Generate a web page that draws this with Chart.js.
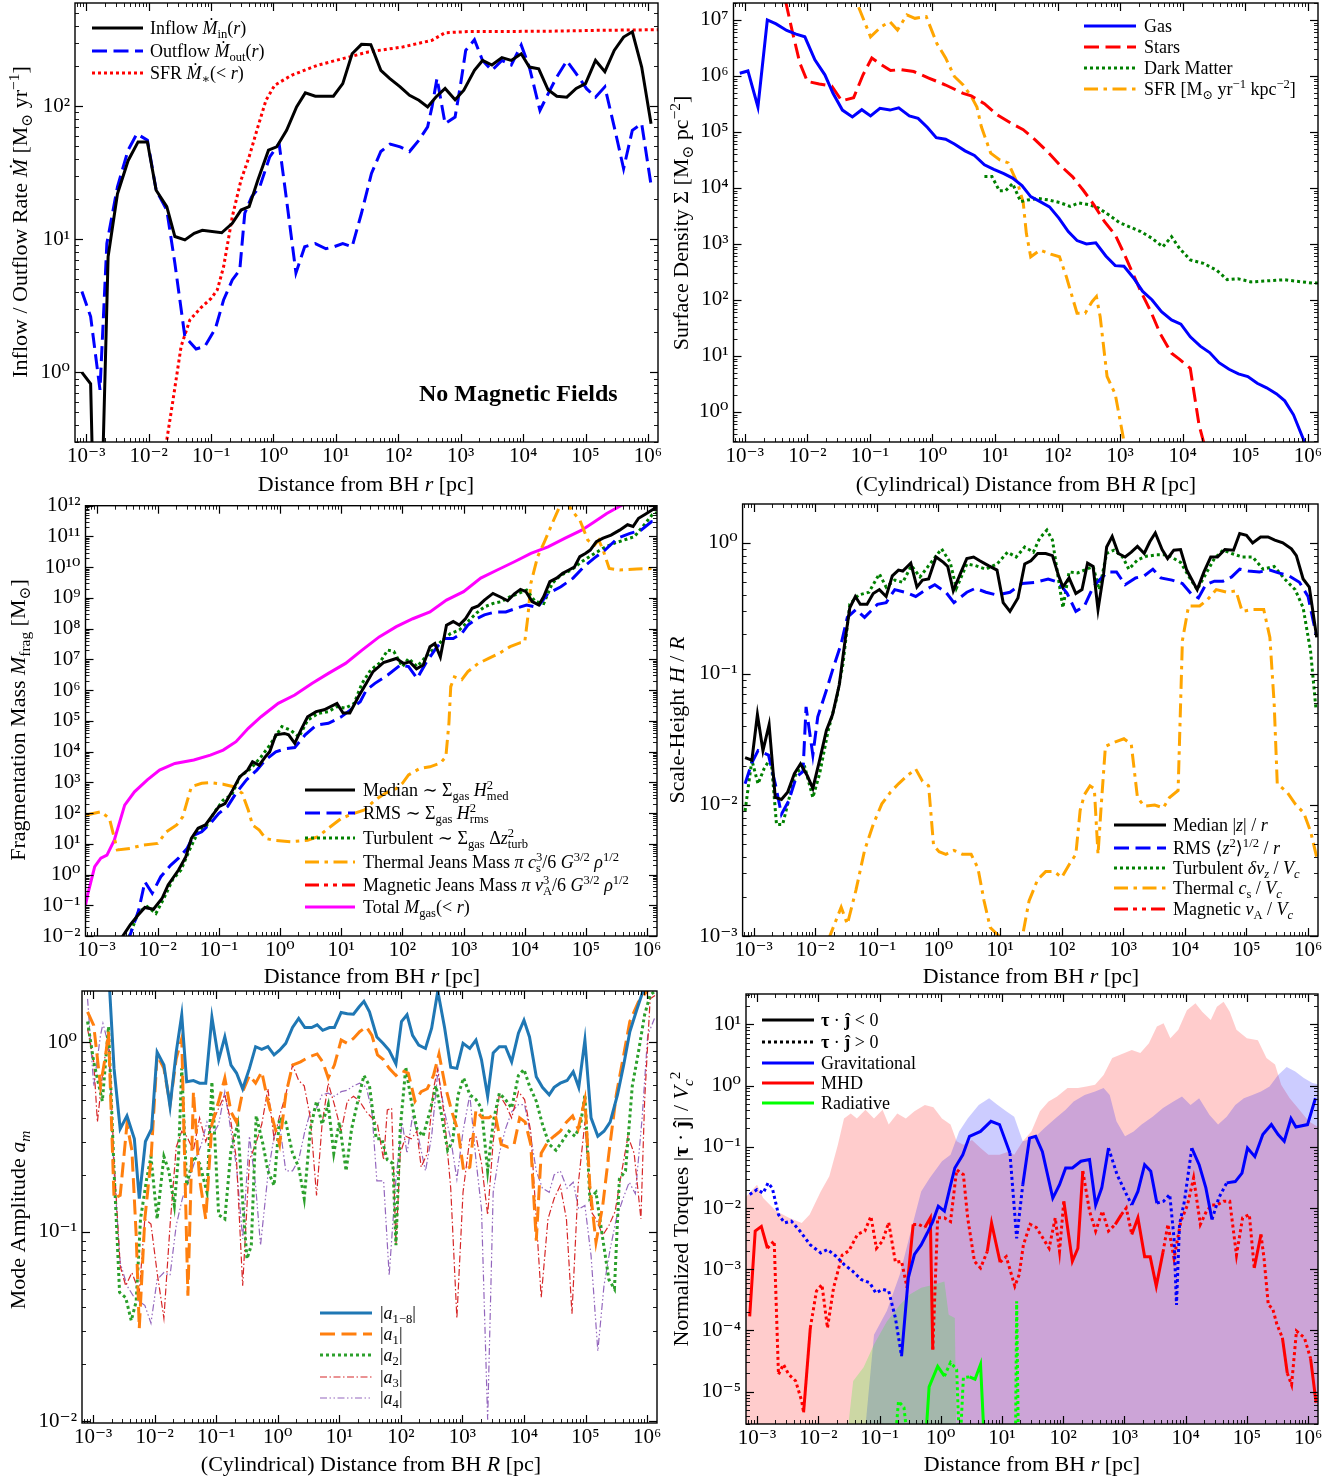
<!DOCTYPE html>
<html><head><meta charset="utf-8">
<script src="https://cdn.jsdelivr.net/npm/chart.js@4.4.1/dist/chart.umd.min.js"></script>
<style>
html,body{margin:0;padding:0;background:#fff;}
#wrap{position:relative;width:1344px;height:1479px;background:#fff;}
canvas{position:absolute;left:0;top:0;}
</style></head><body><div id="wrap">
<canvas id="c1" width="1344" height="1479"></canvas>
<canvas id="c2" width="1344" height="1479"></canvas>
<canvas id="c3" width="1344" height="1479"></canvas>
<canvas id="c4" width="1344" height="1479"></canvas>
<canvas id="c5" width="1344" height="1479"></canvas>
<canvas id="c6" width="1344" height="1479"></canvas>
</div>
<script>
// ---------------- tick values / labels ----------------
const xTickValues = [1e-3,1e-2,1e-1,1,10,100,1e3,1e4,1e5,1e6];
const xTickLabels = ['10⁻³','10⁻²','10⁻¹','10⁰','10¹','10²','10³','10⁴','10⁵','10⁶'];
const p1YTicks = [1,10,100];             const p1YLabels = ['10⁰','10¹','10²'];
const p2YTicks = [1,10,100,1e3,1e4,1e5,1e6,1e7];
const p2YLabels = ['10⁰','10¹','10²','10³','10⁴','10⁵','10⁶','10⁷'];
const p3YTicks = [1e-2,1e-1,1,10,100,1e3,1e4,1e5,1e6,1e7,1e8,1e9,1e10,1e11,1e12];
const p3YLabels = ['10⁻²','10⁻¹','10⁰','10¹','10²','10³','10⁴','10⁵','10⁶','10⁷','10⁸','10⁹','10¹⁰','10¹¹','10¹²'];
const p4YTicks = [1e-3,1e-2,1e-1,1];     const p4YLabels = ['10⁻³','10⁻²','10⁻¹','10⁰'];
const p5YTicks = [1e-2,1e-1,1];          const p5YLabels = ['10⁻²','10⁻¹','10⁰'];
const p6YTicks = [1e-5,1e-4,1e-3,1e-2,1e-1,1,10];
const p6YLabels = ['10⁻⁵','10⁻⁴','10⁻³','10⁻²','10⁻¹','10⁰','10¹'];

// ---------------- data: [log10 r (pc), value] ----------------
// Panel 1: inflow / outflow / SFR (M_sun/yr)
const p1Inflow = [[-3.07,1.0],[-2.93,0.82],[-2.87,0.05],[-2.77,0.05],[-2.65,7.4],[-2.5,22],[-2.33,39],[-2.17,54],[-2.02,54],[-1.88,23.4],[-1.71,17.6],[-1.58,10.5],[-1.42,9.9],[-1.27,11.1],[-1.14,11.7],[-0.83,11.2],[-0.66,13.2],[-0.52,16.6],[-0.39,17.6],[-0.25,27.9],[-0.08,46.8],[0.05,49.5],[0.21,66],[0.37,99],[0.51,126],[0.67,119],[0.96,119],[1.11,148],[1.26,248],[1.41,292],[1.56,290],[1.72,186],[1.86,162],[2.03,140],[2.18,121],[2.33,111],[2.47,99],[2.6,117],[2.75,136],[2.91,112],[3.05,132],[3.22,186],[3.35,221],[3.5,204],[3.66,232],[3.81,221],[3.97,248],[4.1,197],[4.25,191],[4.4,133],[4.54,119],[4.7,117],[4.85,136],[5.0,148],[5.16,221],[5.31,182],[5.46,263],[5.61,331],[5.75,363],[5.9,197],[6.05,74]];
const p1Outflow = [[-3.07,4.05],[-2.93,2.63],[-2.78,0.74],[-2.67,9.3],[-2.5,24.8],[-2.33,46.8],[-2.19,62],[-2.02,55.6],[-1.88,23.4],[-1.71,16.6],[-1.58,6.6],[-1.42,1.86],[-1.24,1.5],[-1.1,1.57],[-0.93,2.14],[-0.8,3.5],[-0.66,4.95],[-0.54,5.9],[-0.46,15.7],[-0.35,20.9],[-0.22,24.8],[-0.06,41.7],[0.09,52.5],[0.21,19.7],[0.36,5.6],[0.5,8.8],[0.67,9.3],[0.84,8.5],[0.97,8.8],[1.11,9.3],[1.26,8.8],[1.41,15.7],[1.57,31.3],[1.72,45.7],[1.87,52],[2.03,49.5],[2.18,45.7],[2.33,55.6],[2.47,70],[2.54,99],[2.62,162],[2.75,74],[2.91,83],[3.0,148],[3.08,263],[3.22,316],[3.35,221],[3.5,186],[3.66,221],[3.81,204],[3.97,288],[4.1,197],[4.27,93],[4.4,124],[4.54,166],[4.7,219],[4.85,176],[5.02,135],[5.16,117],[5.31,140],[5.46,70],[5.61,34],[5.75,66],[5.9,74],[6.05,25.6]];
const p1SFR = [[-1.78,0.1],[-1.71,0.31],[-1.61,0.62],[-1.48,1.57],[-1.34,2.48],[-1.17,3.04],[-1.0,3.6],[-0.9,4.17],[-0.8,6.2],[-0.66,14.8],[-0.52,27.9],[-0.39,41.7],[-0.25,70],[-0.12,111],[0.02,144],[0.29,171],[0.7,203],[1.11,228],[1.52,256],[2.07,279],[2.54,313],[2.75,357],[3.16,365],[3.84,365],[4.52,367],[5.2,372],[6.16,376]];

// Panel 2: surface densities
const p2Gas = [[-3.08,1.12e6],[-2.95,1.23e6],[-2.79,2.8e5],[-2.64,1e7],[-2.5,8.5e6],[-2.33,6.5e6],[-2.18,5.6e6],[-2.04,5e6],[-1.88,1.94e6],[-1.72,1.05e6],[-1.59,4.9e5],[-1.44,2.46e5],[-1.28,1.86e5],[-1.13,2.5e5],[-0.99,1.94e5],[-0.84,2.65e5],[-0.68,2.46e5],[-0.54,2.7e5],[-0.37,1.94e5],[-0.23,1.75e5],[-0.08,1.2e5],[0.06,7.9e4],[0.21,7.4e4],[0.35,6.1e4],[0.52,4.6e4],[0.67,3.8e4],[0.83,2.6e4],[0.98,2.15e4],[1.14,1.8e4],[1.28,1.5e4],[1.43,1.1e4],[1.57,7e3],[1.72,5.7e3],[1.87,4.6e3],[2.02,2.9e3],[2.17,1.67e3],[2.31,1.15e3],[2.46,1e3],[2.61,1.05e3],[2.77,610],[2.92,410],[3.06,400],[3.21,250],[3.36,142],[3.51,100],[3.66,62],[3.82,44],[3.97,37],[4.12,22],[4.28,15],[4.43,11.5],[4.58,7.6],[4.74,5.8],[4.89,4.8],[5.04,4.3],[5.19,3.25],[5.34,2.7],[5.5,2.1],[5.63,1.58],[5.77,0.89],[5.94,0.3],[6.0,0.15]];
const p2Stars = [[-2.42,5e7],[-2.24,6.2e6],[-2.12,1.7e6],[-2.0,8e5],[-1.81,7.2e5],[-1.61,6.6e5],[-1.45,3.6e5],[-1.26,4.1e5],[-1.11,1.05e6],[-0.97,2.1e6],[-0.82,1.6e6],[-0.67,1.25e6],[-0.51,1.3e6],[-0.3,1.2e6],[-0.06,9.2e5],[0.21,6.9e5],[0.49,4.9e5],[0.62,4.4e5],[0.83,3.2e5],[1.04,2e5],[1.28,1.38e5],[1.45,1.1e5],[1.65,7.1e4],[1.86,4.2e4],[2.03,2.6e4],[2.24,1.58e4],[2.41,9.1e3],[2.58,5e3],[2.75,2.5e3],[2.92,1.45e3],[3.06,680],[3.2,300],[3.33,142],[3.49,62],[3.64,25],[3.82,11.2],[3.95,8.7],[4.12,6],[4.26,0.59],[4.33,0.3],[4.38,0.1]];
const p2DarkMatter = [[0.83,1.6e4],[0.95,1.6e4],[1.07,8.9e3],[1.17,9e3],[1.28,1.2e4],[1.41,5.7e3],[1.52,6.1e3],[1.69,6.5e3],[1.86,6.1e3],[2.03,5.5e3],[2.2,4.7e3],[2.34,5.4e3],[2.51,5e3],[2.65,4.4e3],[2.82,3.3e3],[2.99,2.4e3],[3.16,2e3],[3.33,1.66e3],[3.51,1.26e3],[3.68,890],[3.82,1.35e3],[3.95,830],[4.12,520],[4.33,450],[4.54,340],[4.71,230],[4.88,240],[5.09,210],[5.36,220],[5.63,230],[5.91,210],[6.08,200],[6.16,200]];
const p2SFR = [[-1.35,5e7],[-0.99,5e6],[-0.82,7.6e6],[-0.68,9.3e6],[-0.56,6.6e6],[-0.41,1.23e7],[-0.28,1.07e7],[-0.1,1.15e7],[0.07,3.8e6],[0.21,2.1e6],[0.35,9.8e5],[0.49,6.9e5],[0.62,4.3e5],[0.71,2.8e5],[0.78,1.25e5],[0.93,4.2e4],[1.07,3.2e4],[1.21,2.8e4],[1.37,1.13e4],[1.45,5.5e3],[1.5,1.55e3],[1.57,590],[1.72,780],[1.89,660],[2.03,590],[2.14,260],[2.31,58],[2.44,58],[2.55,93],[2.62,115],[2.68,50],[2.79,4.3],[2.92,2.1],[3.06,0.3],[3.1,0.1]];

// Panel 3: fragmentation masses (M_sun)
const p3Median = [[-2.62,0.006],[-2.57,0.01],[-2.45,0.023],[-2.32,0.048],[-2.21,0.085],[-2.07,0.074],[-1.93,0.166],[-1.83,0.46],[-1.66,1.4],[-1.54,3.8],[-1.45,15],[-1.34,32],[-1.22,41],[-1.1,87],[-1.0,162],[-0.9,204],[-0.79,490],[-0.66,1.5e3],[-0.53,2.5e3],[-0.45,4.7e3],[-0.34,3.6e3],[-0.24,6.8e3],[-0.17,9.8e3],[-0.07,3.5e4],[0.07,3.9e4],[0.14,3.5e4],[0.24,1.86e4],[0.34,5e4],[0.45,1.35e5],[0.59,2e5],[0.72,2.3e5],[0.93,3.7e5],[1.03,1.8e5],[1.14,1.8e5],[1.28,6.1e5],[1.41,1.66e6],[1.52,4e6],[1.69,7.8e6],[1.9,1.07e7],[2.02,7.4e6],[2.12,8.3e6],[2.23,4.9e6],[2.34,6.6e6],[2.45,2.6e7],[2.53,3.3e7],[2.62,1.2e7],[2.72,1.3e8],[2.83,1.7e8],[2.93,1.3e8],[3.03,2.1e8],[3.14,4.6e8],[3.24,5.5e8],[3.34,8.5e8],[3.48,1.4e9],[3.61,1.05e9],[3.72,8.1e8],[3.83,1.35e9],[3.93,1.9e9],[4.02,1.6e9],[4.12,7.6e8],[4.23,5.9e8],[4.31,1.1e9],[4.41,3.4e9],[4.52,4.4e9],[4.62,6.3e9],[4.72,8.1e9],[4.81,1e10],[4.9,2.2e10],[4.99,2.8e10],[5.07,3.6e10],[5.17,6.8e10],[5.28,8.8e10],[5.41,1.1e11],[5.55,1.6e11],[5.68,2.4e11],[5.77,2.1e11],[5.86,3.9e11],[5.97,5.3e11],[6.08,7.2e11],[6.16,9e11]];
const p3RMS = [[-2.5,0.006],[-2.45,0.011],[-2.31,0.07],[-2.21,0.58],[-2.09,0.245],[-1.95,0.85],[-1.79,2.0],[-1.66,3.4],[-1.52,7.1],[-1.41,19],[-1.28,24.5],[-1.14,46],[-1.0,98],[-0.86,162],[-0.72,440],[-0.55,1.2e3],[-0.38,2.5e3],[-0.24,5.3e3],[-0.07,9.8e3],[0.1,1.26e4],[0.24,1.35e4],[0.41,3.5e4],[0.59,7.2e4],[0.79,8.3e4],[1.0,1.35e5],[1.14,2.2e5],[1.31,4.2e5],[1.41,1e6],[1.55,1.66e6],[1.76,3.1e6],[1.97,6.6e6],[2.1,5.8e6],[2.24,2.4e6],[2.38,7.4e6],[2.55,2.3e7],[2.69,4.8e7],[2.83,4.8e7],[2.97,7e7],[3.07,1.3e8],[3.21,2.1e8],[3.34,2.8e8],[3.52,3.5e8],[3.69,3.5e8],[3.86,4.6e8],[4.03,5.9e8],[4.21,4.9e8],[4.38,1.4e9],[4.59,2.3e9],[4.79,4.4e9],[4.97,1.05e10],[5.14,2e10],[5.31,3.6e10],[5.52,8.8e10],[5.72,1.26e11],[5.9,1.6e11],[6.07,3e11],[6.16,3.2e11]];
const p3Turbulent = [[-2.5,0.006],[-2.45,0.012],[-2.31,0.062],[-2.17,0.09],[-2.03,0.054],[-1.9,0.166],[-1.76,0.66],[-1.62,1.4],[-1.48,6.3],[-1.34,24.5],[-1.21,36],[-1.07,110],[-0.93,263],[-0.79,390],[-0.66,1.5e3],[-0.48,2.8e3],[-0.31,6.8e3],[-0.17,1.6e4],[0.03,6.5e4],[0.17,5e4],[0.31,3e4],[0.45,1.05e5],[0.62,1.74e5],[0.79,2e5],[0.93,2.9e5],[1.07,2.6e5],[1.21,3.7e5],[1.34,1.66e6],[1.48,4.5e6],[1.62,7.4e6],[1.76,2e7],[1.86,1.8e7],[2.0,5.8e6],[2.1,1.07e7],[2.24,5.8e6],[2.38,1.2e7],[2.52,2.3e7],[2.66,4.3e7],[2.79,7e7],[2.93,9e7],[3.07,1.7e8],[3.21,3.2e8],[3.34,5.1e8],[3.48,6.6e8],[3.62,7.6e8],[3.76,1.1e9],[3.9,1.4e9],[4.03,1.8e9],[4.17,7.6e8],[4.31,6.6e8],[4.45,3e9],[4.59,5.5e9],[4.76,8.1e9],[4.93,1.5e10],[5.1,2.5e10],[5.28,4.1e10],[5.45,5.9e10],[5.62,7.6e10],[5.79,9.8e10],[5.93,2.1e11],[6.08,5e11],[6.16,6e11]];
const p3Thermal = [[-3.17,87],[-2.93,110],[-2.79,67],[-2.66,6.3],[-2.45,7.1],[-2.24,9.1],[-2.0,10.3],[-1.86,24.5],[-1.69,41],[-1.59,76],[-1.52,234],[-1.45,720],[-1.28,930],[-1.14,980],[-0.93,870],[-0.76,720],[-0.62,440],[-0.52,126],[-0.45,41],[-0.34,28],[-0.24,15],[-0.1,13],[0.17,11.7],[0.45,13],[0.62,17],[0.79,32],[1.0,67],[1.21,98],[1.38,126],[1.55,263],[1.72,440],[1.9,630],[2.0,930],[2.1,1.74e3],[2.28,2.8e3],[2.45,3.2e3],[2.62,4.2e3],[2.71,6.8e3],[2.76,8.3e4],[2.79,1.3e6],[2.85,2.7e6],[2.97,2.2e6],[3.07,4e6],[3.24,7.4e6],[3.41,1.07e7],[3.59,1.6e7],[3.76,2.6e7],[3.93,3.5e7],[4.0,3.7e7],[4.05,2.4e8],[4.1,3e9],[4.21,2.2e10],[4.31,5.9e10],[4.45,2.7e11],[4.57,9.3e11],[4.66,2e12],[4.76,7.2e11],[4.9,3.4e11],[5.03,7.6e10],[5.14,5.2e10],[5.21,7.6e10],[5.28,3.6e10],[5.38,9.1e9],[5.55,8.1e9],[5.83,8.7e9],[6.16,9.1e9]];
const p3Magnetic = [];
const p3Total = [[-3.18,0.1],[-3.14,0.245],[-3.03,1.8],[-2.93,3.4],[-2.83,4.3],[-2.71,13],[-2.54,182],[-2.38,490],[-2.17,1.2e3],[-1.97,2.5e3],[-1.72,4.1e3],[-1.41,5.3e3],[-1.14,7.7e3],[-0.93,1.12e4],[-0.72,2.1e4],[-0.52,5.7e4],[-0.31,1.36e5],[-0.03,3.7e5],[0.24,6.9e5],[0.52,1.65e6],[0.79,3.5e6],[1.07,7.4e6],[1.34,2e7],[1.62,5.4e7],[1.9,1.16e8],[2.17,2.1e8],[2.45,3.5e8],[2.72,8.5e8],[3.0,1.6e9],[3.28,4.4e9],[3.55,8.1e9],[3.83,1.5e10],[4.1,2.8e10],[4.38,4.6e10],[4.66,8.8e10],[4.93,1.6e11],[5.14,3e11],[5.34,5.6e11],[5.59,1.05e12],[5.7,1.6e12]];

// Panel 4: scale heights H/R
const p4Median = [[-3.14,0.023],[-3.03,0.022],[-2.94,0.049],[-2.85,0.026],[-2.75,0.041],[-2.65,0.0114],[-2.55,0.011],[-2.45,0.0125],[-2.34,0.0173],[-2.24,0.0206],[-2.13,0.0167],[-2.04,0.0134],[-1.93,0.022],[-1.82,0.037],[-1.72,0.049],[-1.61,0.083],[-1.51,0.19],[-1.44,0.32],[-1.35,0.39],[-1.27,0.34],[-1.16,0.34],[-1.06,0.41],[-0.96,0.44],[-0.85,0.39],[-0.75,0.56],[-0.65,0.62],[-0.58,0.61],[-0.45,0.7],[-0.35,0.46],[-0.26,0.52],[-0.16,0.53],[-0.04,0.78],[0.08,0.71],[0.15,0.66],[0.24,0.43],[0.36,0.59],[0.46,0.76],[0.57,0.78],[0.67,0.73],[0.81,0.67],[0.95,0.62],[1.05,0.35],[1.16,0.3],[1.29,0.38],[1.4,0.69],[1.5,0.73],[1.61,0.83],[1.74,0.83],[1.85,0.8],[1.95,0.56],[2.02,0.46],[2.12,0.54],[2.23,0.41],[2.33,0.44],[2.42,0.7],[2.51,0.66],[2.59,0.31],[2.68,0.58],[2.73,0.93],[2.82,1.12],[2.92,0.83],[3.03,0.78],[3.13,0.85],[3.23,0.94],[3.34,0.83],[3.43,1.02],[3.52,1.19],[3.63,0.89],[3.72,0.76],[3.82,0.88],[3.93,0.89],[4.03,0.62],[4.2,0.44],[4.31,0.6],[4.42,0.78],[4.53,0.78],[4.65,0.89],[4.79,0.88],[4.89,1.18],[5.0,1.14],[5.1,1.0],[5.23,1.11],[5.35,1.11],[5.46,1.05],[5.59,1.0],[5.73,0.9],[5.81,0.8],[5.92,0.53],[6.02,0.46],[6.14,0.19]];
const p4RMS = [[-3.14,0.0145],[-3.03,0.021],[-2.93,0.026],[-2.76,0.024],[-2.65,0.0145],[-2.55,0.0085],[-2.43,0.0108],[-2.31,0.0163],[-2.2,0.018],[-2.15,0.056],[-2.04,0.024],[-1.96,0.047],[-1.82,0.075],[-1.72,0.107],[-1.58,0.17],[-1.48,0.27],[-1.34,0.31],[-1.2,0.27],[-0.99,0.34],[-0.85,0.35],[-0.71,0.44],[-0.54,0.42],[-0.37,0.39],[-0.2,0.44],[-0.06,0.48],[0.12,0.42],[0.25,0.35],[0.46,0.42],[0.6,0.45],[0.77,0.42],[0.95,0.4],[1.16,0.42],[1.36,0.49],[1.57,0.5],[1.78,0.53],[1.95,0.5],[2.09,0.41],[2.23,0.3],[2.37,0.33],[2.51,0.46],[2.61,0.52],[2.75,0.6],[2.89,0.6],[3.03,0.48],[3.2,0.54],[3.34,0.56],[3.48,0.63],[3.61,0.54],[3.79,0.52],[3.96,0.49],[4.1,0.41],[4.22,0.38],[4.34,0.48],[4.48,0.51],[4.62,0.51],[4.76,0.55],[4.89,0.63],[5.03,0.61],[5.21,0.6],[5.38,0.62],[5.52,0.59],[5.69,0.56],[5.86,0.5],[6.0,0.39],[6.13,0.2]];
const p4Turbulent = [[-3.14,0.009],[-3.03,0.022],[-2.93,0.0145],[-2.83,0.019],[-2.72,0.023],[-2.63,0.0071],[-2.53,0.0071],[-2.41,0.012],[-2.31,0.0178],[-2.17,0.0194],[-2.04,0.0114],[-1.93,0.0173],[-1.79,0.037],[-1.65,0.066],[-1.55,0.12],[-1.44,0.34],[-1.3,0.4],[-1.13,0.42],[-0.96,0.58],[-0.85,0.46],[-0.71,0.52],[-0.58,0.5],[-0.44,0.67],[-0.3,0.55],[-0.16,0.67],[0.05,0.9],[0.19,0.71],[0.29,0.45],[0.46,0.69],[0.6,0.67],[0.77,0.63],[0.95,0.69],[1.12,0.85],[1.26,0.78],[1.4,0.93],[1.54,0.85],[1.64,1.08],[1.76,1.25],[1.85,1.05],[1.95,0.52],[2.02,0.32],[2.12,0.6],[2.26,0.59],[2.37,0.62],[2.51,0.66],[2.61,0.44],[2.73,0.83],[2.85,0.88],[2.99,0.78],[3.09,0.63],[3.23,0.74],[3.37,0.79],[3.54,0.81],[3.72,0.81],[3.93,0.71],[4.07,0.55],[4.2,0.44],[4.34,0.58],[4.48,0.76],[4.62,0.88],[4.76,0.83],[4.93,0.78],[5.1,0.78],[5.27,0.63],[5.45,0.66],[5.62,0.53],[5.79,0.44],[5.92,0.32],[6.04,0.15],[6.13,0.053]];
const p4Thermal = [[-1.79,0.00093],[-1.58,0.00166],[-1.48,0.00123],[-1.34,0.00224],[-1.2,0.0045],[-1.06,0.0071],[-0.92,0.0102],[-0.78,0.0125],[-0.65,0.0145],[-0.51,0.0167],[-0.37,0.0188],[-0.26,0.0152],[-0.16,0.014],[-0.08,0.0049],[0.01,0.0044],[0.12,0.0042],[0.25,0.0045],[0.39,0.0042],[0.53,0.0042],[0.64,0.0033],[0.74,0.00185],[0.84,0.00116],[0.98,0.001],[1.1,0.0008],[1.28,0.0008],[1.36,0.00098],[1.47,0.00185],[1.61,0.0027],[1.74,0.0031],[1.88,0.0031],[2.0,0.0028],[2.12,0.0035],[2.23,0.0042],[2.3,0.0091],[2.37,0.012],[2.46,0.014],[2.53,0.0133],[2.59,0.0042],[2.64,0.0096],[2.71,0.028],[2.85,0.03],[3.01,0.032],[3.13,0.029],[3.23,0.0114],[3.34,0.0098],[3.51,0.01],[3.65,0.0095],[3.75,0.0114],[3.89,0.0129],[3.96,0.18],[4.06,0.33],[4.24,0.33],[4.37,0.37],[4.51,0.44],[4.69,0.42],[4.83,0.43],[4.93,0.3],[5.1,0.31],[5.28,0.31],[5.38,0.19],[5.45,0.059],[5.5,0.0145],[5.66,0.0125],[5.79,0.0102],[5.93,0.0087],[6.04,0.0063],[6.14,0.004]];
const p4Magnetic = [];

// Panel 5: mode amplitudes
const p5A18 = [[-2.81,2.2],[-2.73,1.87],[-2.66,0.73],[-2.56,0.35],[-2.45,0.41],[-2.33,0.31],[-2.25,0.15],[-2.15,0.3],[-2.05,0.35],[-1.96,0.89],[-1.85,0.76],[-1.75,0.46],[-1.65,0.89],[-1.56,1.4],[-1.48,0.62],[-1.37,0.63],[-1.27,0.61],[-1.17,0.61],[-1.07,1.36],[-0.96,0.81],[-0.86,1.07],[-0.76,0.76],[-0.67,0.69],[-0.57,0.57],[-0.46,0.73],[-0.36,0.95],[-0.26,0.92],[-0.16,0.95],[-0.06,0.86],[0.03,0.91],[0.13,0.99],[0.24,1.2],[0.34,1.34],[0.44,1.2],[0.55,1.2],[0.64,1.24],[0.73,1.16],[0.84,1.2],[0.92,1.2],[1.03,1.44],[1.13,1.42],[1.23,1.41],[1.32,1.54],[1.4,1.65],[1.49,1.45],[1.61,1.07],[1.71,0.99],[1.81,0.91],[1.92,0.77],[2.01,1.29],[2.1,1.4],[2.19,1.09],[2.29,0.97],[2.4,0.93],[2.5,1.19],[2.6,1.87],[2.71,1.2],[2.81,0.74],[2.91,0.73],[3.01,0.99],[3.12,0.93],[3.22,1.03],[3.31,0.81],[3.41,0.52],[3.5,0.88],[3.6,0.95],[3.7,0.95],[3.8,0.79],[3.91,1.12],[4.0,1.31],[4.09,1.07],[4.2,0.66],[4.3,0.58],[4.41,0.53],[4.49,0.58],[4.59,0.61],[4.7,0.63],[4.8,0.7],[4.89,0.58],[4.99,1.03],[5.09,0.4],[5.2,0.32],[5.3,0.34],[5.4,0.38],[5.52,0.53],[5.62,0.76],[5.72,1.14],[5.83,1.48],[5.93,1.85],[6.03,2.2],[6.16,2.2]];
const p5A1 = [[-3.09,1.45],[-2.99,1.23],[-2.88,0.59],[-2.79,0.89],[-2.75,1.14],[-2.66,0.15],[-2.56,0.156],[-2.45,0.37],[-2.37,0.27],[-2.3,0.096],[-2.25,0.031],[-2.16,0.117],[-2.06,0.24],[-1.96,0.86],[-1.85,0.73],[-1.75,0.47],[-1.65,0.82],[-1.56,1.05],[-1.46,0.046],[-1.37,0.55],[-1.27,0.19],[-1.17,0.117],[-1.07,0.37],[-0.96,0.49],[-0.86,0.65],[-0.76,0.43],[-0.67,0.38],[-0.57,0.55],[-0.46,0.67],[-0.36,0.61],[-0.26,0.7],[-0.16,0.49],[-0.06,0.37],[0.03,0.29],[0.13,0.53],[0.24,0.76],[0.37,0.79],[0.51,0.84],[0.64,0.87],[0.73,0.79],[0.82,0.65],[0.92,0.76],[1.03,1.03],[1.13,0.99],[1.23,1.05],[1.33,1.14],[1.44,1.21],[1.53,1.09],[1.62,0.86],[1.72,0.81],[1.81,0.73],[1.92,0.67],[2.02,0.71],[2.12,0.69],[2.23,0.49],[2.33,0.55],[2.43,0.57],[2.53,0.67],[2.62,0.87],[2.72,0.59],[2.83,0.43],[2.93,0.34],[3.02,0.21],[3.12,0.22],[3.22,0.44],[3.32,0.4],[3.43,0.4],[3.53,0.42],[3.63,0.29],[3.74,0.28],[3.84,0.29],[3.93,0.4],[4.02,0.38],[4.11,0.29],[4.2,0.09],[4.28,0.26],[4.39,0.3],[4.49,0.32],[4.59,0.34],[4.69,0.38],[4.79,0.41],[4.88,0.35],[4.99,0.5],[5.07,0.176],[5.17,0.088],[5.28,0.138],[5.38,0.26],[5.5,0.53],[5.62,0.86],[5.72,1.29],[5.86,1.64],[5.99,1.85],[6.16,2.1]];
const p5A2 = [[-3.09,1.29],[-2.99,0.79],[-2.85,0.49],[-2.75,1.21],[-2.66,0.21],[-2.57,0.048],[-2.47,0.045],[-2.38,0.034],[-2.3,0.043],[-2.23,0.117],[-2.13,0.19],[-2.06,0.25],[-1.96,0.117],[-1.85,0.25],[-1.77,0.21],[-1.68,0.138],[-1.61,0.26],[-1.56,0.73],[-1.48,0.176],[-1.37,0.25],[-1.27,0.23],[-1.15,0.162],[-1.07,0.62],[-0.96,0.123],[-0.86,0.117],[-0.76,0.27],[-0.65,0.37],[-0.57,0.144],[-0.5,0.072],[-0.43,0.085],[-0.35,0.41],[-0.24,0.29],[-0.16,0.21],[-0.06,0.176],[0.03,0.4],[0.13,0.38],[0.24,0.26],[0.34,0.22],[0.43,0.15],[0.53,0.35],[0.63,0.49],[0.72,0.37],[0.82,0.47],[0.91,0.26],[1.0,0.38],[1.11,0.21],[1.2,0.35],[1.3,0.49],[1.4,0.67],[1.49,0.59],[1.6,0.31],[1.69,0.31],[1.78,0.24],[1.87,0.23],[1.92,0.085],[1.99,0.35],[2.08,0.74],[2.17,0.49],[2.26,0.35],[2.36,0.32],[2.47,0.43],[2.57,0.59],[2.67,0.4],[2.76,0.27],[2.84,0.3],[2.93,0.53],[3.02,0.65],[3.12,0.53],[3.22,0.5],[3.31,0.45],[3.41,0.21],[3.5,0.38],[3.6,0.54],[3.7,0.5],[3.8,0.45],[3.91,0.67],[4.0,0.72],[4.09,0.59],[4.2,0.49],[4.3,0.37],[4.41,0.29],[4.52,0.27],[4.62,0.3],[4.73,0.34],[4.83,0.32],[4.92,0.37],[4.99,0.53],[5.07,0.15],[5.17,0.162],[5.28,0.092],[5.38,0.056],[5.47,0.05],[5.55,0.19],[5.65,0.21],[5.76,0.59],[5.86,0.89],[5.96,1.4],[6.05,1.78],[6.16,1.9]];
const p5A3 = [[-3.09,1.18],[-2.99,0.79],[-2.93,0.38],[-2.85,0.67],[-2.75,1.14],[-2.66,0.24],[-2.56,0.066],[-2.47,0.052],[-2.37,0.061],[-2.25,0.048],[-2.16,0.117],[-2.06,0.11],[-1.96,0.061],[-1.85,0.035],[-1.75,0.108],[-1.65,0.28],[-1.56,0.34],[-1.48,0.32],[-1.37,0.27],[-1.27,0.4],[-1.17,0.3],[-1.07,0.37],[-0.96,0.45],[-0.86,0.53],[-0.76,0.38],[-0.67,0.24],[-0.57,0.052],[-0.46,0.24],[-0.36,0.29],[-0.26,0.37],[-0.16,0.57],[-0.06,0.31],[0.03,0.41],[0.13,0.53],[0.24,0.76],[0.34,0.63],[0.43,0.59],[0.53,0.4],[0.63,0.156],[0.72,0.37],[0.82,0.61],[0.92,0.47],[1.03,0.34],[1.13,0.49],[1.23,0.52],[1.33,0.49],[1.44,0.43],[1.53,0.4],[1.62,0.37],[1.72,0.24],[1.78,0.44],[1.85,0.45],[1.92,0.085],[1.99,0.26],[2.08,0.32],[2.17,0.31],[2.26,0.34],[2.33,0.22],[2.43,0.26],[2.53,0.57],[2.6,0.73],[2.71,0.4],[2.81,0.17],[2.91,0.035],[3.01,0.162],[3.12,0.31],[3.22,0.32],[3.31,0.23],[3.41,0.123],[3.5,0.3],[3.6,0.53],[3.7,0.47],[3.8,0.4],[3.91,0.55],[4.01,0.5],[4.11,0.34],[4.2,0.117],[4.28,0.045],[4.39,0.117],[4.49,0.15],[4.59,0.176],[4.69,0.117],[4.78,0.037],[4.88,0.176],[4.99,0.38],[5.09,0.128],[5.17,0.117],[5.28,0.096],[5.38,0.108],[5.48,0.128],[5.59,0.21],[5.69,0.32],[5.79,0.26],[5.9,0.117],[5.96,0.49],[6.05,1.7],[6.16,1.8]];
const p5A4 = [[-3.09,1.7],[-2.99,0.59],[-2.88,1.09],[-2.84,1.26],[-2.75,0.97],[-2.66,0.21],[-2.56,0.069],[-2.45,0.052],[-2.33,0.045],[-2.25,0.043],[-2.16,0.041],[-2.06,0.033],[-1.96,0.056],[-1.85,0.061],[-1.75,0.059],[-1.65,0.108],[-1.55,0.15],[-1.44,0.19],[-1.34,0.24],[-1.24,0.29],[-1.15,0.38],[-1.07,0.32],[-0.96,0.37],[-0.86,0.55],[-0.76,0.34],[-0.67,0.22],[-0.57,0.092],[-0.46,0.32],[-0.36,0.176],[-0.28,0.085],[-0.16,0.2],[-0.06,0.32],[0.03,0.37],[0.13,0.21],[0.24,0.21],[0.34,0.24],[0.44,0.34],[0.53,0.43],[0.63,0.45],[0.72,0.53],[0.82,0.54],[0.92,0.52],[1.03,0.55],[1.13,0.56],[1.23,0.59],[1.33,0.61],[1.44,0.58],[1.53,0.43],[1.61,0.186],[1.72,0.186],[1.81,0.059],[1.92,0.19],[2.02,0.38],[2.1,0.26],[2.19,0.41],[2.29,0.31],[2.4,0.21],[2.5,0.32],[2.6,0.7],[2.71,0.43],[2.81,0.31],[2.91,0.19],[3.01,0.34],[3.12,0.53],[3.22,0.24],[3.31,0.132],[3.41,0.0102],[3.5,0.162],[3.6,0.26],[3.7,0.35],[3.8,0.43],[3.91,0.47],[4.01,0.47],[4.11,0.32],[4.2,0.21],[4.3,0.17],[4.41,0.162],[4.49,0.2],[4.59,0.21],[4.7,0.17],[4.8,0.183],[4.89,0.132],[4.99,0.138],[5.09,0.075],[5.2,0.0235],[5.3,0.052],[5.4,0.081],[5.5,0.117],[5.61,0.15],[5.71,0.183],[5.81,0.159],[5.92,0.4],[6.01,1.09],[6.12,1.34]];

// Panel 6: torque bands (shaded) and lines; third entry: -1 = tau.j<0 (solid), +1 = tau.j>0 (dotted)
const p6MHDBand = [[-3.2,0.0145],[-3.0,0.024],[-2.9,0.0145],[-2.69,0.0089],[-2.48,0.0069],[-2.27,0.0057],[-2.14,0.0078],[-1.96,0.0186],[-1.82,0.033],[-1.68,0.108],[-1.58,0.29],[-1.47,0.35],[-1.37,0.29],[-1.23,0.4],[-1.09,0.29],[-0.95,0.4],[-0.85,0.23],[-0.71,0.35],[-0.57,0.29],[-0.43,0.38],[-0.26,0.48],[-0.12,0.44],[0.02,0.29],[0.16,0.23],[0.26,0.123],[0.37,0.108],[0.51,0.129],[0.65,0.095],[0.78,0.074],[0.96,0.074],[1.1,0.083],[1.2,0.074],[1.34,0.123],[1.48,0.178],[1.62,0.38],[1.76,0.55],[1.9,0.66],[2.07,0.91],[2.24,0.91],[2.38,0.96],[2.52,1.03],[2.66,1.48],[2.8,2.8],[2.94,3.2],[3.12,3.8],[3.26,3.4],[3.4,4.9],[3.53,9.2],[3.64,10.4],[3.75,5.9],[3.88,8.1],[4.02,17],[4.16,22],[4.27,16],[4.41,11.7],[4.51,19.4],[4.62,23.4],[4.72,16],[4.83,8.1],[5.0,5.9],[5.18,5.5],[5.32,2.8],[5.46,2.2],[5.56,1.03],[5.7,0.62],[5.84,0.42],[6.01,0.26],[6.2,0.2]];
const p6GravBand = [[-1.27,1e-6],[-1.09,8.5e-5],[-0.88,2.1e-4],[-0.67,8.1e-4],[-0.46,0.0054],[-0.32,0.0186],[-0.18,0.031],[0.02,0.058],[0.16,0.074],[0.3,0.178],[0.44,0.29],[0.62,0.48],[0.79,0.62],[0.93,0.48],[1.07,0.38],[1.2,0.31],[1.34,0.123],[1.52,0.138],[1.69,0.2],[1.87,0.29],[2.04,0.4],[2.17,0.55],[2.35,0.7],[2.52,0.8],[2.66,0.91],[2.76,0.7],[2.87,0.26],[3.01,0.148],[3.15,0.178],[3.28,0.23],[3.46,0.31],[3.63,0.43],[3.8,0.55],[3.94,0.66],[4.08,0.48],[4.22,0.62],[4.39,0.33],[4.53,0.23],[4.67,0.31],[4.81,0.48],[4.95,0.62],[5.09,0.7],[5.23,0.8],[5.37,0.96],[5.51,1.48],[5.65,2.0],[5.79,1.7],[5.93,1.32],[6.07,1.1],[6.2,1.03]];
const p6RadBand = [[-1.56,1e-6],[-1.43,1.5e-5],[-1.26,2.5e-5],[-1.09,5.9e-5],[-0.88,1.4e-4],[-0.67,2.6e-4],[-0.5,3.9e-4],[-0.32,5e-4],[-0.12,5.6e-4],[0.06,6.3e-4],[0.13,1.8e-4],[0.23,1.6e-4],[0.26,1e-6]];
const p6Grav = [[-3.12,0.0166,1],[-3.0,0.02,1],[-2.9,0.0175,1],[-2.82,0.0257,1],[-2.75,0.021,1],[-2.65,0.0078,1],[-2.55,0.0057,1],[-2.44,0.0061,1],[-2.3,0.0042,1],[-2.13,0.0025,1],[-1.96,0.00185,1],[-1.85,0.0021,1],[-1.71,0.00163,1],[-1.58,0.0012,1],[-1.44,9.3e-4,1],[-1.3,6.8e-4,1],[-1.16,6e-4,1],[-1.06,4.1e-4,1],[-0.95,4.7e-4,1],[-0.85,4.4e-4,1],[-0.74,1.6e-4,1],[-0.64,3.8e-5,-1],[-0.53,7.2e-4,-1],[-0.43,0.00174,-1],[-0.32,0.0025,-1],[-0.22,0.0039,-1],[-0.13,0.006,-1],[-0.04,0.0107,-1],[0.06,0.0089,-1],[0.15,0.0213,-1],[0.23,0.045,-1],[0.36,0.074,-1],[0.47,0.148,-1],[0.65,0.178,-1],[0.82,0.26,-1],[0.96,0.23,-1],[1.13,0.079,1],[1.24,0.0032,1],[1.34,0.024,-1],[1.45,0.138,-1],[1.55,0.148,-1],[1.66,0.083,-1],[1.83,0.0145,-1],[1.94,0.024,-1],[2.04,0.045,-1],[2.15,0.045,-1],[2.29,0.058,-1],[2.43,0.062,-1],[2.53,0.0112,-1],[2.63,0.0213,-1],[2.74,0.095,1],[2.88,0.035,1],[3.01,0.0186,1],[3.12,0.0112,-1],[3.22,0.0186,-1],[3.33,0.051,-1],[3.43,0.04,-1],[3.53,0.012,1],[3.64,0.0129,1],[3.74,0.0166,1],[3.81,0.0032,1],[3.85,2.6e-4,1],[3.9,0.0054,1],[3.98,0.0129,1],[4.1,0.095,-1],[4.22,0.051,-1],[4.33,0.0213,-1],[4.43,0.0065,1],[4.54,0.0145,1],[4.67,0.0257,-1],[4.81,0.027,-1],[4.92,0.037,-1],[5.01,0.095,-1],[5.13,0.069,-1],[5.26,0.158,-1],[5.4,0.23,-1],[5.51,0.158,-1],[5.61,0.123,-1],[5.72,0.29,-1],[5.8,0.21,-1],[5.99,0.23,-1],[6.12,0.62,-1]];
const p6MHD = [[-3.12,1.7e-4,-1],[-3.03,0.0042,-1],[-2.93,0.005,-1],[-2.83,0.0022,1],[-2.72,0.0029,1],[-2.65,1.9e-5,1],[-2.57,2.8e-5,1],[-2.48,1.9e-5,1],[-2.37,1.5e-5,1],[-2.27,7e-6,1],[-2.24,4.6e-6,-1],[-2.13,1.1e-4,1],[-2.03,4.4e-4,1],[-1.94,5.6e-4,1],[-1.85,1.1e-4,1],[-1.75,5e-4,1],[-1.61,0.0017,1],[-1.5,0.002,1],[-1.36,0.0037,1],[-1.24,0.0042,1],[-1.14,0.0073,1],[-1.05,0.0022,1],[-0.95,0.0029,1],[-0.85,0.0058,1],[-0.74,0.0013,1],[-0.64,0.00135,1],[-0.55,5e-4,-1],[-0.45,0.0054,1],[-0.36,0.0054,1],[-0.26,0.0048,-1],[-0.17,0.0069,-1],[-0.13,4.9e-5,1],[-0.05,0.0069,1],[0.06,0.0069,1],[0.16,0.006,1],[0.26,0.042,1],[0.37,0.035,1],[0.44,0.0069,1],[0.55,0.00135,1],[0.65,0.00105,1],[0.76,0.00195,-1],[0.83,0.0057,-1],[0.97,0.0013,1],[1.07,0.0016,1],[1.21,5.3e-4,1],[1.28,8.1e-4,1],[1.35,0.0025,1],[1.46,0.0054,1],[1.56,0.0048,1],[1.67,0.0032,1],[1.77,0.0022,1],[1.87,0.0069,1],[1.94,0.00195,1],[2.01,0.0129,-1],[2.15,0.00135,-1],[2.24,0.0022,-1],[2.32,0.04,1],[2.43,0.0089,1],[2.53,0.0042,1],[2.64,0.0089,1],[2.74,0.0042,1],[2.85,0.0054,-1],[2.95,0.0078,1],[3.03,0.01,1],[3.12,0.0037,-1],[3.22,0.0069,-1],[3.33,0.0016,-1],[3.42,0.0016,-1],[3.52,5.3e-4,-1],[3.63,0.0019,1],[3.71,0.0054,1],[3.81,0.0015,1],[3.92,0.006,1],[4.03,0.0112,1],[4.13,0.031,1],[4.24,0.0054,1],[4.34,0.0089,1],[4.43,0.0112,1],[4.51,0.0112,1],[4.62,0.0129,1],[4.72,0.0129,1],[4.83,0.0017,1],[4.93,0.0069,1],[5.04,0.0078,1],[5.12,0.00105,-1],[5.23,0.0037,1],[5.28,0.0015,1],[5.35,2.6e-4,1],[5.42,2.3e-4,1],[5.49,1.26e-4,1],[5.58,7.6e-5,-1],[5.66,2e-5,1],[5.73,1.3e-5,1],[5.81,9.8e-5,1],[5.94,7.6e-5,1],[6.04,3.5e-5,-1],[6.13,6.6e-6,-1]];
const p6Rad = [[-0.76,1e-6,1],[-0.69,7e-6,1],[-0.6,5.5e-6,1],[-0.52,1e-6,1],[-0.26,1e-6,-1],[-0.19,1.2e-5,-1],[-0.05,2.6e-5,-1],[0.06,1.8e-5,1],[0.16,3e-5,1],[0.26,2.3e-5,1],[0.31,1e-6,1],[0.37,1.7e-5,1],[0.47,1.75e-5,-1],[0.56,1.6e-5,-1],[0.65,2.8e-5,-1],[0.72,1e-6,1],[1.22,1e-6,1],[1.24,3e-4,1],[1.27,1e-6,1],[1.5,1e-6,1]];

// ---------------- helpers ----------------
const FAM = "'Liberation Serif','DejaVu Serif',serif";
const X_MIN = 6.6e-4, X_MAX = 1.45e6;
const DOT=[3,3], DASH=[15,6.5], DASHDOT=[14,5.5,3.5,5.5], DASHDOTDOT=[14,5,4,5,4,5];

function pts(arr){ return arr.map(p => ({x: Math.pow(10,p[0]), y: p[1]})); }
function line(arr, color, dash, w){ return {data: pts(arr), borderColor: color, borderWidth: w||3, borderDash: dash||[], pointRadius:0, fill:false, tension:0}; }

function parseRich(s){
  const items=[]; let it=false, bd=false, buf=''; let cur={type:'n',toks:[]}; let prevSupEnd=-5;
  const flush=()=>{ if(buf){cur.toks.push({t:buf,it,bd}); buf='';} };
  let i=0;
  while(i<s.length){
    const c=s[i];
    if(c==='%'||c==='#'){ flush(); if(c==='%')it=!it; else bd=!bd; i++; continue; }
    if((c==='_'||c==='^') && s[i+1]==='{'){
      flush(); if(cur.toks.length) items.push(cur);
      const g={type:c==='_'?'sub':'sup', toks:[], stack:(c==='_' && prevSupEnd===i)};
      let j=i+2, gb='';
      while(j<s.length && s[j]!=='}'){
        const d=s[j];
        if(d==='%'||d==='#'){ if(gb){g.toks.push({t:gb,it,bd}); gb='';} if(d==='%')it=!it; else bd=!bd; }
        else gb+=d;
        j++;
      }
      if(gb) g.toks.push({t:gb,it,bd});
      items.push(g); if(c==='^') prevSupEnd=j+1;
      cur={type:'n',toks:[]}; i=j+1; continue;
    }
    buf+=c; i++;
  }
  flush(); if(cur.toks.length) items.push(cur);
  return items;
}
function fnt(t,sz){ return (t.it?'italic ':'')+(t.bd?'bold ':'')+sz+'px '+FAM; }
function drawRich(ctx, s, x, y, size, align){
  const items=parseRich(s);
  const widths=items.map(item=>{ const sz=item.type==='n'?size:size*0.7; let w=0; for(const t of item.toks){ ctx.font=fnt(t,sz); w+=ctx.measureText(t.t).width; } return w; });
  const pos=[]; let cx=0, supStart=0, supW=0;
  items.forEach((item,k)=>{
    const w=widths[k];
    if(item.type==='sub' && item.stack){ pos.push(supStart); cx=Math.max(supStart+supW, supStart+w); }
    else { pos.push(cx); if(item.type==='sup'){ supStart=cx; supW=w; } cx+=w; }
  });
  const x0 = align==='center' ? x-cx/2 : x;
  ctx.textBaseline='alphabetic'; ctx.textAlign='left'; ctx.fillStyle='#000';
  items.forEach((item,k)=>{
    const sz=item.type==='n'?size:size*0.7;
    const dy=item.type==='sup'? -0.38*size : item.type==='sub'? 0.24*size : 0;
    let xx=x0+pos[k];
    for(const t of item.toks){ ctx.font=fnt(t,sz); ctx.fillText(t.t, xx, y+dy); xx+=ctx.measureText(t.t).width; }
  });
}

function decor(cfg){
  return {
    id:'decor_'+cfg.id,
    afterDatasetsDraw(chart){
      const ctx=chart.ctx, a=chart.chartArea, xs=chart.scales.x, ys=chart.scales.y;
      ctx.save(); ctx.strokeStyle='#000';
      const seg=(x1,y1,x2,y2)=>{ctx.beginPath();ctx.moveTo(x1,y1);ctx.lineTo(x2,y2);ctx.stroke();};
      const ticks=(mn,mx)=>{ const out=[]; for(let e=Math.floor(Math.log10(mn))-1;e<=Math.ceil(Math.log10(mx));e++){ for(let m=1;m<=9;m++){ const v=m*Math.pow(10,e); if(v>=mn*0.9999 && v<=mx*1.0001) out.push({v,major:m===1}); } } return out; };
      for(const t of ticks(xs.min,xs.max)){ const p=Math.round(xs.getPixelForValue(t.v))+0.5; const L=t.major?8:4; ctx.lineWidth=t.major?1.2:0.9; seg(p,a.bottom,p,a.bottom-L); seg(p,a.top,p,a.top+L); }
      for(const t of ticks(ys.min,ys.max)){ const p=Math.round(ys.getPixelForValue(t.v))+0.5; const L=t.major?8:4; ctx.lineWidth=t.major?1.2:0.9; seg(a.left,p,a.left+L,p); seg(a.right,p,a.right-L,p); }
      ctx.lineWidth=1.4; ctx.strokeRect(a.left,a.top,a.right-a.left,a.bottom-a.top);
      ctx.restore();
    },
    afterDraw(chart){
      const ctx=chart.ctx;
      ctx.save();
      drawRich(ctx, cfg.xTitle.text, cfg.xTitle.x, cfg.xTitle.y, 22, 'center');
      ctx.save(); ctx.translate(cfg.yTitle.x, cfg.yTitle.y); ctx.rotate(-Math.PI/2);
      drawRich(ctx, cfg.yTitle.text, 0, 0, 22, 'center'); ctx.restore();
      const lg=cfg.legend;
      lg.items.forEach((item,k)=>{
        const y=lg.ys[k];
        ctx.save(); ctx.strokeStyle=item.color; ctx.lineWidth=item.w||3; ctx.setLineDash(item.dash||[]);
        ctx.beginPath(); ctx.moveTo(lg.x1,y); ctx.lineTo(lg.x2,y); ctx.stroke(); ctx.restore();
        drawRich(ctx, item.label, lg.tx, y+6, lg.size||18, 'left');
      });
      (cfg.texts||[]).forEach(t=>drawRich(ctx,t.text,t.x,t.y,t.size,t.align||'left'));
      ctx.restore();
    }
  };
}

function logAxis(min,max,vals,labels,isX,fitSize){
  return {
    type:'logarithmic', min, max, position:isX?'bottom':'left',
    grid:{display:false, drawTicks:false}, border:{display:false},
    afterBuildTicks:(s)=>{ s.ticks = vals.filter(v=>v>=min*0.999 && v<=max*1.001).map(v=>({value:v})); },
    ticks:{autoSkip:false, maxRotation:0, minRotation:0, color:'#000', padding:isX?2:5,
      font:{family:FAM, size:21},
      callback:(v)=>{ const i=vals.indexOf(v); return i>=0?labels[i]:''; }},
    afterFit:(s)=>{ if(isX) s.height=fitSize; else s.width=fitSize; s.paddingLeft=0; s.paddingRight=0; s.paddingTop=0; s.paddingBottom=0; }
  };
}

const YW=62, XH=32, W=1344, H=1479;
function makeChart(id, area, ymin, ymax, yVals, yLabels, datasets, cfg){
  cfg.id=id;
  return new Chart(document.getElementById(id), {
    type:'line',
    data:{datasets},
    options:{
      responsive:false, animation:false, events:[],
      layout:{padding:{left:area[0]-YW, top:area[1], right:W-area[2], bottom:H-area[3]-XH}},
      plugins:{legend:{display:false}, tooltip:{enabled:false}},
      scales:{
        x:logAxis(X_MIN,X_MAX,xTickValues,xTickLabels,true,XH),
        y:logAxis(ymin,ymax,yVals,yLabels,false,YW)
      }
    },
    plugins:[decor(cfg)]
  });
}

// ---------------- Panel 1 ----------------
makeChart('c1',[75,3,658,442],0.302,597,p1YTicks,p1YLabels,[
  line(p1Inflow,'#000000',[],3),
  line(p1Outflow,'#0000ff',DASH,3),
  line(p1SFR,'#ff0000',DOT,3)
],{
  xTitle:{text:'Distance from BH %r% [pc]', x:366, y:491},
  yTitle:{text:'Inflow / Outflow Rate %Ṁ% [M_{⊙} yr^{−1}]', x:27, y:222},
  legend:{x1:92,x2:143,tx:150,ys:[28,51,73],items:[
    {label:'Inflow %Ṁ%_{in}(%r%)',color:'#000000',dash:[]},
    {label:'Outflow %Ṁ%_{out}(%r%)',color:'#0000ff',dash:DASH},
    {label:'SFR %Ṁ%_{∗}(< %r%)',color:'#ff0000',dash:DOT}]},
  texts:[{text:'#No Magnetic Fields#', x:419, y:401, size:24}]
});

// ---------------- Panel 2 ----------------
makeChart('c2',[733.5,3,1318,442],0.291,2.01e7,p2YTicks,p2YLabels,[
  line(p2Gas,'#0000ff',[],3),
  line(p2Stars,'#ff0000',DASH,3),
  line(p2DarkMatter,'#008000',DOT,3),
  line(p2SFR,'#ffa500',DASHDOT,3)
],{
  xTitle:{text:'(Cylindrical) Distance from BH %R% [pc]', x:1026, y:491},
  yTitle:{text:'Surface Density Σ [M_{⊙} pc^{−2}]', x:688, y:223},
  legend:{x1:1084,x2:1136,tx:1144,ys:[26,47,68,89],items:[
    {label:'Gas',color:'#0000ff',dash:[]},
    {label:'Stars',color:'#ff0000',dash:DASH},
    {label:'Dark Matter',color:'#008000',dash:DOT},
    {label:'SFR [M_{⊙} yr^{−1} kpc^{−2}]',color:'#ffa500',dash:DASHDOT}]}
});

// ---------------- Panel 3 ----------------
makeChart('c3',[85.5,505.7,657,936],1e-2,1e12,p3YTicks,p3YLabels,[
  line(p3Median,'#000000',[],3),
  line(p3RMS,'#0000ff',DASH,3),
  line(p3Turbulent,'#008000',DOT,3),
  line(p3Thermal,'#ffa500',DASHDOT,3),
  line(p3Magnetic,'#ff0000',DASHDOTDOT,3),
  line(p3Total,'#ff00ff',[],3)
],{
  xTitle:{text:'Distance from BH %r% [pc]', x:372, y:983},
  yTitle:{text:'Fragmentation Mass %M%_{frag} [M_{⊙}]', x:25, y:720},
  legend:{x1:305,x2:355,tx:363,ys:[790,813,838,862,885,907],items:[
    {label:'Median ∼ Σ_{gas} %H%^{2}_{med}',color:'#000000',dash:[]},
    {label:'RMS ∼ Σ_{gas} %H%^{2}_{rms}',color:'#0000ff',dash:DASH},
    {label:'Turbulent ∼ Σ_{gas} Δ%z%^{2}_{turb}',color:'#008000',dash:DOT},
    {label:'Thermal Jeans Mass %π c%^{3}_{s}/6 %G%^{3/2} %ρ%^{1/2}',color:'#ffa500',dash:DASHDOT},
    {label:'Magnetic Jeans Mass %π v%^{3}_{A}/6 %G%^{3/2} %ρ%^{1/2}',color:'#ff0000',dash:DASHDOTDOT},
    {label:'Total %M%_{gas}(< %r%)',color:'#ff00ff',dash:[]}]}
});

// ---------------- Panel 4 ----------------
makeChart('c4',[742.6,504,1318,936],1e-3,1.98,p4YTicks,p4YLabels,[
  line(p4Median,'#000000',[],3),
  line(p4RMS,'#0000ff',DASH,3),
  line(p4Turbulent,'#008000',DOT,3),
  line(p4Thermal,'#ffa500',DASHDOT,3),
  line(p4Magnetic,'#ff0000',DASHDOTDOT,3)
],{
  xTitle:{text:'Distance from BH %r% [pc]', x:1031, y:983},
  yTitle:{text:'Scale-Height %H% / %R%', x:684, y:720},
  legend:{x1:1114,x2:1166,tx:1173,ys:[825,848,868,888,909],items:[
    {label:'Median |%z%| / %r%',color:'#000000',dash:[]},
    {label:'RMS ⟨%z%^{2}⟩^{1/2} / %r%',color:'#0000ff',dash:DASH},
    {label:'Turbulent %δv%_{%z%} / %V%_{%c%}',color:'#008000',dash:DOT},
    {label:'Thermal %c%_{s} / %V%_{%c%}',color:'#ffa500',dash:DASHDOT},
    {label:'Magnetic %v%_{A} / %V%_{%c%}',color:'#ff0000',dash:DASHDOTDOT}]}
});

// ---------------- Panel 5 ----------------
makeChart('c5',[82,991,657,1423],0.0098,1.87,p5YTicks,p5YLabels,[
  line(p5A18,'#1f77b4',[],3),
  line(p5A1,'#ff7f0e',DASH,3),
  line(p5A2,'#2ca02c',DOT,3),
  line(p5A3,'#d62728',[7,2.5,1.5,2.5],1.2),
  line(p5A4,'#9467bd',[7,2.5,1.5,2.5,1.5,2.5],1.2)
],{
  xTitle:{text:'(Cylindrical) Distance from BH %R% [pc]', x:371, y:1471},
  yTitle:{text:'Mode Amplitude %a%_{%m%}', x:25, y:1220},
  legend:{x1:320,x2:372,tx:380,ys:[1313,1334,1355,1377,1398],items:[
    {label:'|%a%_{1−8}|',color:'#1f77b4',dash:[]},
    {label:'|%a%_{1}|',color:'#ff7f0e',dash:DASH},
    {label:'|%a%_{2}|',color:'#2ca02c',dash:DOT},
    {label:'|%a%_{3}|',color:'#d62728',dash:[7,2.5,1.5,2.5],w:1.2},
    {label:'|%a%_{4}|',color:'#9467bd',dash:[7,2.5,1.5,2.5,1.5,2.5],w:1.2}]}
});

// ---------------- Panel 6 ----------------
function signedLine(arr,color){
  return {data:pts(arr), borderColor:color, borderWidth:3, pointRadius:0, fill:false, tension:0,
    segment:{borderDash:(c)=> arr[c.p0DataIndex][2]>0 ? DOT : []}};
}
function band(arr,color){ return {data:pts(arr), borderWidth:0, borderColor:'rgba(0,0,0,0)', backgroundColor:color, pointRadius:0, fill:'start', tension:0}; }
makeChart('c6',[746,994,1318,1424],2.97e-6,31.2,p6YTicks,p6YLabels,[
  signedLine(p6Grav,'#0000ff'),
  signedLine(p6MHD,'#ff0000'),
  signedLine(p6Rad,'#00ff00'),
  band(p6RadBand,'rgba(0,255,0,0.2)'),
  band(p6GravBand,'rgba(0,0,255,0.2)'),
  band(p6MHDBand,'rgba(255,0,0,0.2)')
],{
  xTitle:{text:'Distance from BH %r% [pc]', x:1032, y:1471},
  yTitle:{text:'Normalized Torques |#τ# · #ĵ#| / %V%_{%c%}^{2}', x:688, y:1209},
  legend:{x1:762,x2:814,tx:821,ys:[1020,1042,1063,1083,1103],items:[
    {label:'#τ# · #ĵ# < 0',color:'#000000',dash:[]},
    {label:'#τ# · #ĵ# > 0',color:'#000000',dash:DOT},
    {label:'Gravitational',color:'#0000ff',dash:[]},
    {label:'MHD',color:'#ff0000',dash:[]},
    {label:'Radiative',color:'#00ff00',dash:[]}]}
});
</script></body></html>
